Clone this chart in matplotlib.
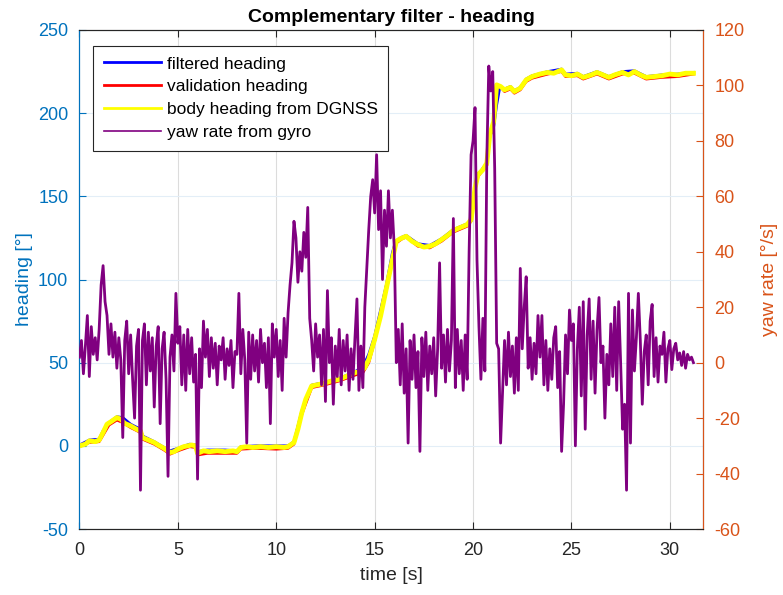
"""Complementary filter heading plot: filtered / validation / DGNSS heading with gyro yaw rate."""
import matplotlib
matplotlib.use("Agg")
import matplotlib.pyplot as plt
from matplotlib.lines import Line2D
import numpy as np

plt.rcParams["font.family"] = ["Liberation Sans", "DejaVu Sans"]
plt.rcParams["axes.unicode_minus"] = False

# body heading from DGNSS [deg]
dgnss_t = [0.0, 0.3, 0.5, 0.8, 1.0, 1.2, 1.4, 1.6, 1.9, 2.1, 2.3, 2.6, 2.9, 3.1, 3.2, 3.5, 3.8,
           4.0, 4.3, 4.6, 4.8, 5.0, 5.3, 5.7, 5.9, 6.0, 6.3, 6.6, 7.0, 7.4, 7.8, 8.0, 8.2, 8.5,
           8.8, 9.2, 9.6, 10.0, 10.4, 10.6, 10.9, 11.1, 11.3, 11.5, 11.8, 12.0, 12.4, 12.8, 13.2,
           13.6, 14.0, 14.3, 14.5, 14.7, 15.0, 15.3, 15.6, 15.9, 16.1, 16.3, 16.6, 16.9, 17.2,
           17.5, 17.8, 18.1, 18.4, 18.7, 19.0, 19.3, 19.7, 19.9, 20.0, 20.1, 20.25, 20.5, 20.7,
           20.85, 21.05, 21.2, 21.4, 21.6, 21.9, 22.1, 22.4, 22.7, 23.0, 23.4, 23.8, 24.1, 24.5,
           24.7, 25.0, 25.3, 25.6, 26.0, 26.3, 26.6, 26.9, 27.2, 27.6, 27.9, 28.2, 28.5, 28.8,
           29.2, 29.6, 30.0, 30.4, 30.8, 31.2]
dgnss = [0, 1, 3, 2.5, 3.5, 8, 13, 14.5, 17, 16, 13.5, 12, 10, 9, 5, 3.5, 2,
         0.5, -1.5, -4, -3.5, -2, -0.5, 0.5, 0, -4.5, -3, -3.5, -3, -3.5, -3, -3.5, -1, -0.5,
         -1, -0.5, -1, -0.5, -1, -0.5, 2, 10, 20, 28, 36, 36.5, 37.5, 39, 40,
         42, 44, 45, 47, 52, 64, 78, 95, 112, 123, 124.5, 126, 123, 121,
         119.5, 120, 121.5, 124, 126.5, 129.5, 131, 133, 136, 145, 155, 163, 166, 170,
         187, 195, 217, 216, 214, 215.5, 213, 215, 220, 222, 223.5, 224.5, 224, 226,
         223, 222.5, 223.5, 221.5, 223, 224.5, 223, 221.5, 223, 224.5, 223, 225, 223, 221.5,
         222, 222.5, 223.5, 223, 224, 224]

# validation heading [deg]
valid_t = [0.0, 0.5, 1.0, 1.2, 1.5, 1.9, 2.2, 2.6, 3.1, 3.2, 3.8, 4.3, 4.6, 5.0, 5.6, 5.9, 6.0,
           6.5, 7.4, 8.0, 8.2, 9.0, 10.0, 10.6, 10.9, 11.3, 11.8, 12.4, 13.2, 14.0, 14.4, 14.7,
           15.0, 15.6, 15.9, 16.1, 16.4, 16.6, 17.2, 17.8, 18.4, 19.0, 19.7, 19.9, 20.1, 20.25,
           20.7, 20.85, 21.05, 21.2, 21.4, 21.6, 21.9, 22.1, 22.4, 22.7, 23.0, 23.8, 24.5, 24.7,
           25.3, 25.6, 26.3, 26.9, 27.6, 28.2, 28.8, 29.6, 30.4, 31.2]
valid = [-0.5, 2, 2.5, 6.5, 12.5, 15.5, 14, 11, 8, 4, 1, -2.5, -5, -3, -0.5, -1, -5.5,
         -4.5, -4.5, -4.5, -2, -1.5, -2, -1.5, 1, 19, 35, 36.5, 39, 42.5, 44, 50,
         63, 94, 111, 122, 124.5, 125.5, 120, 119, 123, 128.5, 132, 135, 154, 162,
         168.5, 186, 194, 216, 216, 213, 214.5, 212, 214, 219, 221, 223.5, 225, 222,
         222.5, 220.5, 223.5, 220.5, 223.5, 224, 220.5, 221.5, 222, 223.5]

# filtered heading [deg]
filt_t = [0.0, 0.5, 1.0, 1.2, 1.5, 1.9, 2.2, 2.6, 3.1, 3.2, 3.8, 4.3, 4.6, 5.0, 5.6, 5.9, 6.0,
          6.5, 7.4, 8.0, 8.2, 9.0, 10.0, 10.6, 10.9, 11.3, 11.8, 12.4, 13.2, 14.0, 14.3, 14.5,
          14.7, 15.0, 15.6, 15.9, 16.05, 16.4, 16.6, 17.2, 17.8, 18.4, 19.0, 19.7, 19.9, 20.1,
          20.25, 20.7, 20.85, 21.05, 21.2, 21.35, 21.6, 21.9, 22.1, 22.4, 22.7, 23.0, 23.8,
          24.5, 24.7, 25.3, 25.6, 26.3, 26.9, 27.6, 28.2, 28.8, 29.6, 30.4, 31.2]
filt = [0.5, 3.5, 4, 9, 14, 17.5, 17, 13, 10, 6, 2.5, -1, -3, -1.5, 1, 0.5, -3.5,
        -2.5, -2.5, -3, -0.5, 0, 0, 0, 2.5, 21, 36.5, 38, 40.5, 44.5, 47, 50,
        55, 66, 97, 116, 122.5, 125.5, 126.5, 121.5, 120.5, 124.5, 130, 133.5, 136, 155,
        163, 170, 186, 192, 205, 215, 214.5, 216, 213.5, 215.5, 220.5, 222.5, 225,
        226.5, 223.5, 224, 222, 225, 222, 225, 225.5, 222, 223, 223.5, 224.5]

# yaw rate from gyro [deg/s], one sample every 0.1 s from t = 0
yaw_rate = [
    2, 8, -4, 6, 17, -5, 13, 3, 9, 1,
    12, 28, 35, 22, 17, 3, 14, 2, 11, -2,
    9, 1, -27, 8, 15, -4, 10, -6, -20, 6,
    12, -46, 8, 14, -8, 11, -3, 9, -16, 6,
    13, -22, 5, 11, -6, -41, 2, 10, -3, 25,
    7, 13, -8, 10, -10, 12, -4, 9, -7, 3,
    -42, 5, -9, 15, 2, 12, -5, 9, -2, 7,
    -8, 6, 1, 9, -6, 5, -1, 8, -9, 4,
    3, 25, -4, 12, 1, -29, 11, -6, 10, -3,
    8, -7, 12, 0, 7, -9, 9, -22, 14, 2,
    12, -5, 8, -10, 16, 2, 18, 28, 36, 51,
    45, 29, 40, 33, 47, 38, 56, 16, 8, -3,
    14, 2, 10, -8, 12, -14, 26, 0, 9, -15,
    6, -5, 12, -8, 8, -3, 10, -10, 5, -6,
    9, 23, -10, 6, -9, 20, 34, 48, 60, 66,
    54, 75, 48, 62, 30, 55, 42, 62, 45, 55,
    41, 0, 12, -8, 14, -11, 5, -29, 8, -6,
    10, -9, 4, -32, 9, -5, 11, -10, 6, -4,
    9, -12, 5, 36, -2, 10, -7, 12, -3, 8,
    52, -9, 12, -4, 8, -10, 10, -6, 40, 75,
    80, 92, 37, 13, -6, 16, -3, 74, 107, 98,
    105, 70, 7, 5, -29, -10, 8, -8, 11, -5,
    6, -11, 9, -10, 34, 5, 20, 31, -2, 9,
    -6, 7, -4, 17, 2, 17, -8, 8, -10, 5,
    -6, 9, 13, -9, 4, -32, -15, 10, -4, 19,
    8, 14, -30, 5, 20, -12, 22, -24, 10, 23,
    -6, 15, -11, 12, 23.5, 0, 6, -20, 3, -8,
    14, -5, 20, -10, 22, 0, -24, -15, -46, 25,
    -29, 19, -3, 9, 25, 8, -15, 4, 10, -8,
    15, 21, -5, 9, -7, 6, 3, 11, -7, 5,
    8, -2.5, 5, 7, 1, 3.5, -1, 4, -2, 3,
    1, 2, 0,
]
yaw_t = np.arange(len(yaw_rate)) * 0.1

LEFT_C = "#0072BD"
RIGHT_C = "#D95319"
DARK = "#262626"

fig = plt.figure(figsize=(7.83, 5.95), dpi=100)
ax = fig.add_axes([0.1015, 0.1109, 0.7967, 0.8387])

ax.plot(filt_t, filt, color="blue", linewidth=2.0, zorder=3)
ax.plot(valid_t, valid, color="red", linewidth=2.0, zorder=4)
ax.plot(dgnss_t, dgnss, color="yellow", linewidth=3.5, zorder=5)

ax.set_xlim(0, 31.7)
ax.set_ylim(-50, 250)
ax.set_xticks(np.arange(0, 31, 5))
ax.set_yticks(np.arange(-50, 251, 50))
ax.set_xlabel("time [s]", fontsize=14, color=DARK, labelpad=6)
ax.set_ylabel("heading [°]", fontsize=14, color=LEFT_C, labelpad=4)
ax.set_title("Complementary filter - heading", fontsize=14, fontweight="bold", pad=6)
ax.tick_params(axis="x", direction="in", labelsize=13, colors=DARK, top=True, length=5, pad=9)
ax.tick_params(axis="y", direction="in", labelsize=13, colors=LEFT_C, length=5, pad=8)
ax.xaxis.grid(True, color="#dcdcdc", linewidth=0.8)
ax.yaxis.grid(True, color="#e3eef7", linewidth=0.8)
ax.set_axisbelow(True)
ax.spines["left"].set_color(LEFT_C)
for s in ("top", "bottom"):
    ax.spines[s].set_color(DARK)

ax2 = ax.twinx()
ax2.plot(yaw_t, yaw_rate, color="purple", linewidth=2.0, zorder=6)
ax2.set_ylim(-60, 120)
ax2.set_yticks(np.arange(-60, 121, 20))
ax2.set_ylabel("yaw rate [°/s]", fontsize=14, color=RIGHT_C, labelpad=12)
ax2.tick_params(axis="y", direction="in", labelsize=13, colors=RIGHT_C, length=5, pad=8)
ax2.spines["right"].set_color(RIGHT_C)
ax2.spines["left"].set_color(LEFT_C)
for s in ("top", "bottom"):
    ax2.spines[s].set_color(DARK)

handles = [
    Line2D([0], [0], color="blue", linewidth=2.0, label="filtered heading"),
    Line2D([0], [0], color="red", linewidth=2.0, label="validation heading"),
    Line2D([0], [0], color="yellow", linewidth=2.0, label="body heading from DGNSS"),
    Line2D([0], [0], color="purple", linewidth=1.2, label="yaw rate from gyro"),
]
leg = ax2.legend(handles=handles, loc="upper left", bbox_to_anchor=(0.022, 0.968),
                 fontsize=12.5, frameon=True, fancybox=False, framealpha=1,
                 edgecolor=DARK, handlelength=3.3, handletextpad=0.35,
                 labelspacing=0.45, borderpad=0.6, borderaxespad=0)
leg.get_frame().set_linewidth(0.8)
leg.set_zorder(10)

plt.savefig("out.png", dpi=100)
